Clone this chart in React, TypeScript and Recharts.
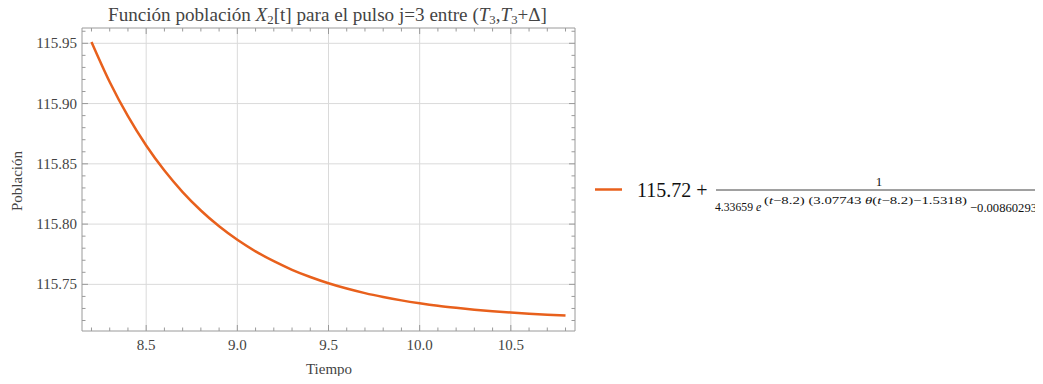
import { LineChart, Line, XAxis, YAxis, ReferenceLine } from 'recharts';

// tiempo (t) and X2[t]
const tiempo = [8.2, 8.3, 8.4, 8.5, 8.6, 8.7, 8.8, 8.9, 9.0, 9.1, 9.2, 9.3, 9.4, 9.5, 9.6, 9.7, 9.8, 9.9, 10.0, 10.1, 10.2, 10.3, 10.4, 10.5, 10.6, 10.7, 10.8];
const poblacion = [115.9511, 115.9179, 115.8895, 115.8652, 115.8444, 115.8266, 115.8113, 115.7982, 115.787, 115.7774, 115.7692, 115.7621, 115.7561, 115.7509, 115.7465, 115.7427, 115.7395, 115.7367, 115.7343, 115.7322, 115.7305, 115.729, 115.7277, 115.7266, 115.7256, 115.7248, 115.7241];

const xTicks = [8.2, 8.3, 8.4, 8.5, 8.6, 8.7, 8.8, 8.9, 9.0, 9.1, 9.2, 9.3, 9.4, 9.5, 9.6, 9.7, 9.8, 9.9, 10.0, 10.1, 10.2, 10.3, 10.4, 10.5, 10.6, 10.7, 10.8];
const xMajor = [8.5, 9.0, 9.5, 10.0, 10.5];
const yTicks = [115.72, 115.73, 115.74, 115.75, 115.76, 115.77, 115.78, 115.79, 115.8, 115.81, 115.82, 115.83, 115.84, 115.85, 115.86, 115.87, 115.88, 115.89, 115.9, 115.91, 115.92, 115.93, 115.94, 115.95, 115.96];
const yMajor = [115.75, 115.8, 115.85, 115.9, 115.95];

const ORANGE = '#e8601c';
const FRAME = '#9a9a9a';
const GRID = '#dadada';
const LABEL = '#444';
const FONT = "'Liberation Serif', 'Times New Roman', 'DejaVu Serif', serif";
const serif = { fontFamily: FONT };

const chartData = tiempo.map((t, i) => ({ t, p: poblacion[i] }));

const isMajor = (v: number, list: number[]) => list.some(m => Math.abs(m - v) < 1e-6);

function BottomTick(props: any) {
  const { x, y, payload } = props;
  const major = isMajor(payload.value, xMajor);
  return (
    <g>
      <line x1={x} x2={x} y1={y} y2={y - (major ? 6 : 3.5)} stroke={FRAME} />
      {major && (
        <text x={x} y={y + 19} textAnchor="middle" fontSize={15} fill={LABEL} style={serif}>
          {payload.value.toFixed(1)}
        </text>
      )}
    </g>
  );
}

function TopTick(props: any) {
  const { x, y, payload } = props;
  const major = isMajor(payload.value, xMajor);
  return <line x1={x} x2={x} y1={y} y2={y + (major ? 6 : 3.5)} stroke={FRAME} />;
}

function LeftTick(props: any) {
  const { x, y, payload } = props;
  const major = isMajor(payload.value, yMajor);
  return (
    <g>
      <line x1={x} x2={x + (major ? 6 : 3.5)} y1={y} y2={y} stroke={FRAME} />
      {major && (
        <text x={x - 5} y={y + 5} textAnchor="end" fontSize={15} fill={LABEL} style={serif}>
          {payload.value.toFixed(2)}
        </text>
      )}
    </g>
  );
}

function RightTick(props: any) {
  const { x, y, payload } = props;
  const major = isMajor(payload.value, yMajor);
  return <line x1={x} x2={x - (major ? 6 : 3.5)} y1={y} y2={y} stroke={FRAME} />;
}

export default function App() {
  return (
    <div style={{ position: 'relative', width: 1043, height: 384, margin: -8, background: '#fff' }}>
      <LineChart
        width={1043}
        height={384}
        data={chartData}
        margin={{ top: 27, right: 467, left: 12, bottom: 23 }}
      >
        {xMajor.map(v => (
          <ReferenceLine key={'gx' + v} x={v} stroke={GRID} strokeWidth={1} />
        ))}
        {yMajor.map(v => (
          <ReferenceLine key={'gy' + v} y={v} stroke={GRID} strokeWidth={1} />
        ))}
        <XAxis
          dataKey="t"
          type="number"
          domain={[8.148, 10.852]}
          allowDataOverflow
          ticks={xTicks}
          interval={0}
          tickSize={0}
          tickMargin={0}
          height={30}
          axisLine={{ stroke: FRAME }}
          tick={<BottomTick />}
        />
        <XAxis
          xAxisId="top"
          orientation="top"
          dataKey="t"
          type="number"
          domain={[8.148, 10.852]}
          allowDataOverflow
          ticks={xTicks}
          interval={0}
          tickSize={0}
          tickMargin={0}
          height={1}
          axisLine={{ stroke: FRAME }}
          tick={<TopTick />}
        />
        <YAxis
          type="number"
          domain={[115.7113, 115.9627]}
          allowDataOverflow
          ticks={yTicks}
          interval={0}
          tickSize={0}
          tickMargin={0}
          width={70}
          axisLine={{ stroke: FRAME }}
          tick={<LeftTick />}
        />
        <YAxis
          yAxisId="right"
          orientation="right"
          type="number"
          domain={[115.7113, 115.9627]}
          allowDataOverflow
          ticks={yTicks}
          interval={0}
          tickSize={0}
          tickMargin={0}
          width={1}
          axisLine={{ stroke: FRAME }}
          tick={<RightTick />}
        />
        <Line
          dataKey="p"
          type="monotone"
          stroke={ORANGE}
          strokeWidth={2.5}
          dot={false}
          isAnimationActive={false}
        />
      </LineChart>
      <svg
        width={1043}
        height={384}
        style={{ position: 'absolute', left: 0, top: 0, pointerEvents: 'none', ...serif }}
      >
        <text x={108} y={21} fontSize={18} fill={LABEL} textLength={439} lengthAdjust="spacingAndGlyphs" style={serif}>
          Función población <tspan fontStyle="italic">X</tspan>
          <tspan fontSize={12} dy={3}>2</tspan>
          <tspan dy={-3}>[t] para el pulso j=3 entre (</tspan>
          <tspan fontStyle="italic">T</tspan>
          <tspan fontSize={12} dy={3}>3</tspan>
          <tspan dy={-3}>,</tspan>
          <tspan fontStyle="italic">T</tspan>
          <tspan fontSize={12} dy={3}>3</tspan>
          <tspan dy={-3}>+Δ]</tspan>
        </text>
        <text x={329} y={374} textAnchor="middle" fontSize={15} fill={LABEL} style={serif}>
          Tiempo
        </text>
        <text
          x={0}
          y={0}
          transform="translate(22,181) rotate(-90)"
          textAnchor="middle"
          fontSize={15}
          fill={LABEL}
          style={serif}
        >
          Población
        </text>

        <line x1={595} x2={622} y1={189.5} y2={189.5} stroke={ORANGE} strokeWidth={2.5} />
        <text x={637} y={197} fontSize={20} fill="#111" style={serif}>
          115.72 +
        </text>
        <line x1={716} x2={1037} y1={190} y2={190} stroke="#111" strokeWidth={0.8} />
        <text x={879} y={186} textAnchor="middle" fontSize={13} fill="#111" style={serif}>
          1
        </text>
        <text x={715} y={211} fontSize={13} fill="#111" textLength={38} lengthAdjust="spacingAndGlyphs" style={serif}>
          4.33659
        </text>
        <text x={756} y={211} fontSize={12} fontStyle="italic" fill="#111" style={serif}>
          e
        </text>
        <text x={764} y={204} fontSize={11} fill="#111" textLength={203} lengthAdjust="spacingAndGlyphs" style={serif}>
          (<tspan fontStyle="italic">t</tspan>−8.2) (3.07743 <tspan fontStyle="italic">θ</tspan>(<tspan fontStyle="italic">t</tspan>−8.2)−1.5318)
        </text>
        <text x={970} y={212} fontSize={13} fill="#111" textLength={67} lengthAdjust="spacingAndGlyphs" style={serif}>
          −0.00860293
        </text>
      </svg>
    </div>
  );
}
